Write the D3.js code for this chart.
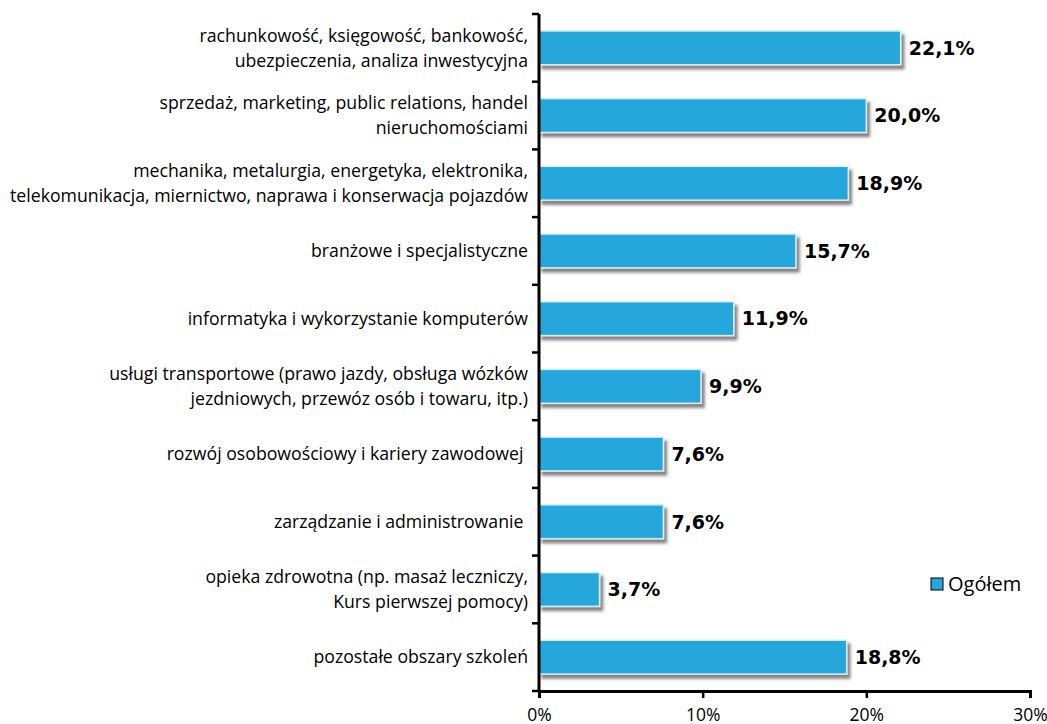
<!DOCTYPE html>
<html>
<head>
<meta charset="utf-8">
<script src="https://cdn.jsdelivr.net/npm/d3@7"></script>
<style>
  body { margin: 0; background: #fff; }
  svg text { font-family: "Open Sans", "Noto Sans", sans-serif; }
</style>
</head>
<body>
<svg id="chart" width="1047" height="724"></svg>
<script>
// Obszary szkoleń — odsetek wskazań (Ogółem)
const categories = [
  "rachunkowość, księgowość, bankowość,\nubezpieczenia, analiza inwestycyjna",
  "sprzedaż, marketing, public relations, handel\nnieruchomościami",
  "mechanika, metalurgia, energetyka, elektronika,\ntelekomunikacja, miernictwo, naprawa i konserwacja pojazdów",
  "branżowe i specjalistyczne",
  "informatyka i wykorzystanie komputerów",
  "usługi transportowe (prawo jazdy, obsługa wózków\njezdniowych, przewóz osób i towaru, itp.)",
  "rozwój osobowościowy i kariery zawodowej ",
  "zarządzanie i administrowanie ",
  "opieka zdrowotna (np. masaż leczniczy,\nKurs pierwszej pomocy)",
  "pozostałe obszary szkoleń"
];
const values = [22.1, 20.0, 18.9, 15.7, 11.9, 9.9, 7.6, 7.6, 3.7, 18.8];
const xTicks = [0, 10, 20, 30];
const seriesName = "Ogółem";

const svg = d3.select("#chart");
const margin = { left: 539, right: 17, top: 14, bottom: 33 };
const W = 1047, H = 724;

const x = d3.scaleLinear().domain([0, 30]).range([margin.left, W - margin.right]);
const y = d3.scaleBand().domain(d3.range(categories.length))
  .range([margin.top, H - margin.bottom]).paddingInner(0.5).paddingOuter(0.25);

const fmt = v => d3.format(".1f")(v).replace(".", ",") + "%";

// drop shadow for bars
const defs = svg.append("defs");
const f = defs.append("filter").attr("id", "shadow")
  .attr("x", "-5%").attr("y", "-20%").attr("width", "115%").attr("height", "160%");
f.append("feDropShadow").attr("dx", 3).attr("dy", 4).attr("stdDeviation", 1.8)
  .attr("flood-color", "#3a2a2a").attr("flood-opacity", 0.6);

// bars
svg.append("g").selectAll("rect").data(values).join("rect")
  .attr("x", x(0))
  .attr("y", (d, i) => y(i))
  .attr("width", d => x(d) - x(0))
  .attr("height", y.bandwidth())
  .attr("fill", "#25a7db")
  .attr("stroke", "#d6eef9")
  .attr("stroke-width", 1.5)
  .attr("filter", "url(#shadow)");

// value labels
svg.append("g").selectAll("text").data(values).join("text")
  .attr("x", d => x(d) + 8)
  .attr("y", (d, i) => y(i) + y.bandwidth() / 2)
  .attr("dy", "0.36em")
  .style("font-family", "Verdana, 'DejaVu Sans', sans-serif")
  .style("font-weight", "bold")
  .style("font-size", "19px")
  .attr("fill", "#000")
  .text(fmt);

// category labels
const step = y.step();
const catG = svg.append("g");
categories.forEach((c, i) => {
  const lines = c.split("\n");
  const cy = y(i) + y.bandwidth() / 2;
  const lh = 25;
  const t = catG.append("text")
    .attr("x", 528)
    .attr("text-anchor", "end")
    .style("font-size", "17.7px")
    .style("white-space", "pre")
    .attr("fill", "#000");
  lines.forEach((ln, j) => {
    t.append("tspan")
      .attr("x", 528)
      .attr("y", cy + (j - (lines.length - 1) / 2) * lh)
      .attr("dy", "0.35em")
      .text(ln);
  });
});

// y axis line with ticks between categories
const axisY = svg.append("g");
axisY.append("line")
  .attr("x1", x(0)).attr("x2", x(0))
  .attr("y1", margin.top).attr("y2", H - margin.bottom)
  .attr("stroke", "#000").attr("stroke-width", 3);
d3.range(categories.length + 1).forEach(k => {
  const yy = margin.top + k * step;
  axisY.append("line")
    .attr("x1", x(0) - 7).attr("x2", x(0))
    .attr("y1", yy).attr("y2", yy)
    .attr("stroke", "#000").attr("stroke-width", 2.5);
});

// x axis
const xAxis = svg.append("g")
  .attr("transform", `translate(0,${H - margin.bottom})`)
  .call(d3.axisBottom(x).tickValues(xTicks).tickFormat(d => d + "%").tickSize(7).tickPadding(11));
xAxis.select(".domain").attr("stroke", "#000").attr("stroke-width", 3);
xAxis.selectAll(".tick line").attr("stroke", "#000").attr("stroke-width", 2.5);
xAxis.selectAll(".tick text")
  .style("font-family", "'Open Sans', 'Noto Sans', sans-serif")
  .style("font-size", "17.5px").attr("fill", "#000");

// legend
const lg = svg.append("g").attr("transform", "translate(931,578)");
lg.append("rect").attr("width", 12).attr("height", 12)
  .attr("fill", "#25a7db").attr("stroke", "#000").attr("stroke-width", 1);
lg.append("text").attr("x", 17).attr("y", 6).attr("dy", "0.36em")
  .style("font-size", "20px").attr("fill", "#000").text(seriesName);
</script>
</body>
</html>
